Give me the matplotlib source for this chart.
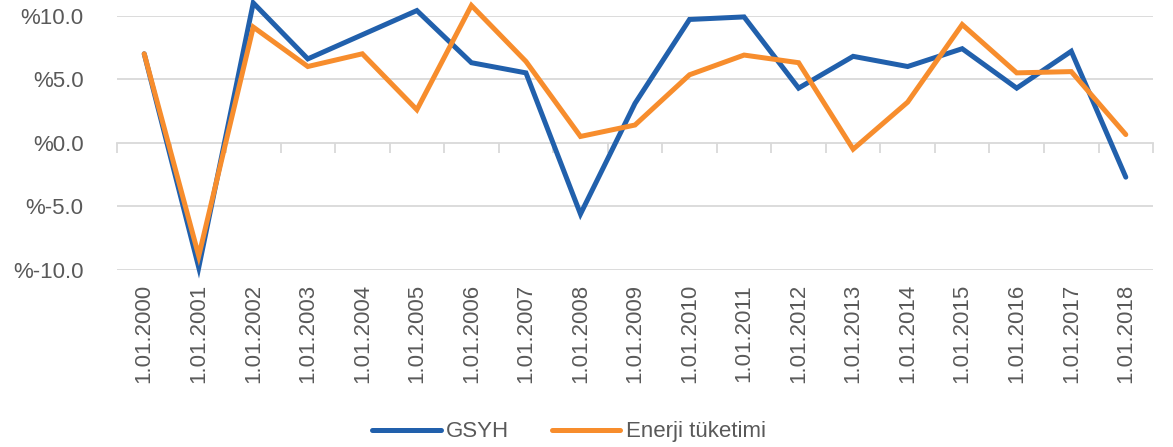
import matplotlib
matplotlib.use("Agg")
import matplotlib.pyplot as plt
import numpy as np

years = [str(y) for y in range(2000, 2019)]
labels = ["1.01." + y for y in years]
gsyh = [7.0, -9.8, 11.0, 6.6, 8.5, 10.4, 6.3, 5.5, -5.6, 3.1, 9.7, 9.9,
        4.3, 6.8, 6.0, 7.4, 4.3, 7.2, -2.7]
enerji = [7.0, -8.9, 9.1, 6.0, 7.0, 2.6, 10.8, 6.4, 0.5, 1.4, 5.35, 6.9,
          6.3, -0.5, 3.2, 9.3, 5.5, 5.6, 0.65]
yticks = [-10, -5, 0, 5, 10]
ytick_labels = ["%-10.0", "%-5.0", "%0.0", "%5.0", "%10.0"]

plt.rcParams['font.family'] = ['Liberation Sans', 'DejaVu Sans']
txt = '#595959'
grid = '#D9D9D9'

fig = plt.figure(figsize=(11.73, 4.47), dpi=100)
ax = fig.add_axes([0.0997, 0.396, 0.8833, 0.569])
x = np.arange(len(labels))
ax.plot(x, gsyh, color='#2160AC', lw=3.6, solid_capstyle='round',
        solid_joinstyle='miter', label='GSYH', clip_on=False, zorder=3)
ax.plot(x, enerji, color='#F78D2D', lw=3.6, solid_capstyle='round',
        solid_joinstyle='miter', label='Enerji tüketimi', clip_on=False, zorder=4)

ax.set_xlim(-0.5, len(labels) - 0.5)
ax.set_ylim(-10, 10)
ax.set_yticks(yticks)
ax.set_yticklabels(ytick_labels, color=txt, fontsize=16)
ax.tick_params(axis='y', length=0, pad=24)
for v in yticks:
    if v != 0:
        ax.axhline(v, color=grid, lw=1.3, zorder=1)

ax.set_xticks(x)
ax.set_xticklabels(labels, rotation=90, color=txt, fontsize=16, va='top')
ax.tick_params(axis='x', length=0, pad=10)
for s in ax.spines.values():
    s.set_visible(False)

sec = ax.secondary_xaxis(0.5)
sec.set_xticks(np.arange(-0.5, len(labels), 1.0))
sec.tick_params(axis='x', direction='in', length=7, width=1.3, color=grid,
                labelbottom=False, labeltop=False)
for s in sec.spines.values():
    s.set_color(grid)
    s.set_linewidth(1.3)
sec.set_zorder(1)

fig.legend(loc='center', bbox_to_anchor=(0.485, 0.034), ncol=2, frameon=False,
           fontsize=16, handlelength=3.1, handletextpad=0.25, columnspacing=1.9,
           labelcolor=txt)
fig.savefig('out.png', dpi=100)
